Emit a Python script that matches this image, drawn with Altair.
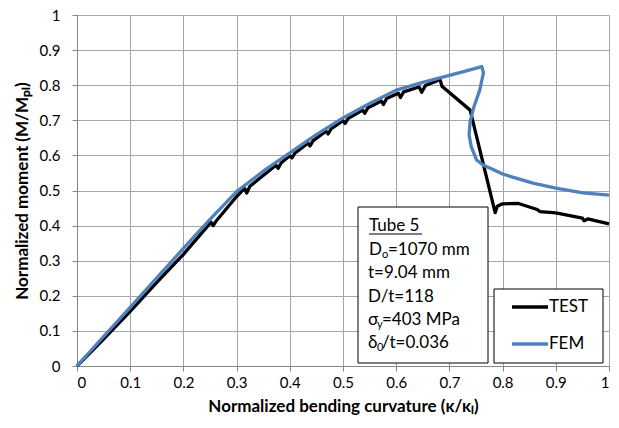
import altair as alt
import pandas as pd

# ---- data ----
fem_x = [0, 0.05, 0.1, 0.15, 0.2, 0.25, 0.3, 0.35, 0.4, 0.45, 0.5, 0.55, 0.6, 0.65,
         0.7, 0.73, 0.761, 0.764, 0.757, 0.746, 0.739, 0.737, 0.741, 0.751, 0.764,
         0.776, 0.8, 0.83, 0.857, 0.9, 0.951, 1.0]
fem_y = [0, 0.084, 0.167, 0.251, 0.335, 0.418, 0.497, 0.555, 0.607, 0.659, 0.707,
         0.748, 0.786, 0.808, 0.828, 0.84, 0.853, 0.835, 0.786, 0.738, 0.696, 0.658,
         0.625, 0.587, 0.572, 0.564, 0.547, 0.533, 0.521, 0.507, 0.493, 0.487]

test_x = [0, 0.05, 0.1, 0.15, 0.2, 0.252, 0.256, 0.262, 0.3, 0.315, 0.319, 0.325,
          0.35, 0.374, 0.378, 0.384, 0.4, 0.404, 0.41, 0.434, 0.438, 0.444, 0.468,
          0.472, 0.478, 0.5, 0.504, 0.51, 0.537, 0.541, 0.547, 0.572, 0.576, 0.582,
          0.604, 0.608, 0.614, 0.643, 0.648, 0.655, 0.675, 0.682, 0.686, 0.739,
          0.786, 0.79, 0.8, 0.83, 0.865, 0.87, 0.9, 0.95, 0.953, 0.96, 1.0]
test_y = [0, 0.077, 0.156, 0.238, 0.318, 0.41, 0.4, 0.414, 0.483, 0.506, 0.493,
          0.512, 0.543, 0.572, 0.563, 0.579, 0.599, 0.593, 0.607, 0.635, 0.627, 0.642,
          0.669, 0.661, 0.676, 0.699, 0.691, 0.706, 0.729, 0.72, 0.736, 0.755, 0.745,
          0.762, 0.777, 0.765, 0.781, 0.795, 0.78, 0.799, 0.811, 0.818, 0.797, 0.729,
          0.437, 0.455, 0.462, 0.463, 0.446, 0.44, 0.436, 0.421, 0.414, 0.419, 0.405]

series_names = ["TEST", "FEM"]
series_colors = ["#000000", "#4F81BD"]
tick_values = [0, 0.1, 0.2, 0.3, 0.4, 0.5, 0.6, 0.7, 0.8, 0.9, 1.0]

FONT = "Lato"
W, H = 532, 351

fem = pd.DataFrame({"x": fem_x, "y": fem_y, "i": range(len(fem_x))})
test = pd.DataFrame({"x": test_x, "y": test_y, "i": range(len(test_x))})

xs = alt.Scale(domain=[0, 1], nice=False)
ys = alt.Scale(domain=[0, 1], nice=False)

x_axis = alt.Axis(values=tick_values, format=".1~f", grid=True,
                  title="Normalized bending curvature (κ/κₗ)")
y_axis = alt.Axis(values=tick_values, format=".1~f", grid=True,
                  title="Normalized moment (M/Mₚₗ)")


def line_layer(df, color):
    return alt.Chart(df).mark_line(strokeWidth=3.3, strokeJoin="round", color=color).encode(
        x=alt.X("x:Q", scale=xs, axis=x_axis),
        y=alt.Y("y:Q", scale=ys, axis=y_axis),
        order="i:Q",
    )


test_line = line_layer(test, series_colors[0])
fem_line = line_layer(fem, series_colors[1])

one = pd.DataFrame({"a": [0]})

# info box
box = alt.Chart(one).mark_rect(fill="white", stroke="black", strokeWidth=1).encode(
    x=alt.value(281), x2=alt.value(411), y=alt.value(192), y2=alt.value(348))

txt = dict(font=FONT, fontSize=17, align="left", baseline="middle", color="black")
sub = dict(font=FONT, fontSize=11, align="left", baseline="middle", color="black")

info_main = [
    ("Tube 5", 292, 211),
    ("D", 292, 235), ("=1070 mm", 311, 235),
    ("t=9.04 mm", 291, 258),
    ("D/t=118", 291, 282),
    ("σ", 291, 305), ("=403 MPa", 305, 305),
    ("δ", 291, 328), ("/t=0.036", 305, 328),
]
info_sub = [("o", 305, 240), ("y", 300, 310), ("0", 300, 333)]

layers = [test_line, fem_line, box]
for t, px, py in info_main:
    layers.append(alt.Chart(one).mark_text(text=t, **txt).encode(
        x=alt.value(px), y=alt.value(py)))
for t, px, py in info_sub:
    layers.append(alt.Chart(one).mark_text(text=t, **sub).encode(
        x=alt.value(px), y=alt.value(py)))
underline = alt.Chart(one).mark_rule(color="black", strokeWidth=1).encode(
    x=alt.value(292), x2=alt.value(345), y=alt.value(219))
layers.append(underline)

# legend
leg_box = alt.Chart(one).mark_rect(fill="white", stroke="black", strokeWidth=1).encode(
    x=alt.value(417), x2=alt.value(526), y=alt.value(274), y2=alt.value(348))
layers.append(leg_box)
for name, col, py in zip(series_names, series_colors, [292, 329]):
    layers.append(alt.Chart(one).mark_rule(color=col, strokeWidth=3.3).encode(
        x=alt.value(435), x2=alt.value(471), y=alt.value(py)))
    layers.append(alt.Chart(one).mark_text(text=name, **txt).encode(
        x=alt.value(472), y=alt.value(py)))

chart = alt.layer(*layers).properties(
    width=W, height=H,
    padding={"left": 77, "top": 15, "right": 10, "bottom": 62},
    autosize=alt.AutoSizeParams(type="none"),
).configure_view(stroke=None).configure_axis(
    gridColor="#A6A6A6", gridWidth=1,
    domainColor="#868686", tickColor="#868686", tickSize=5,
    labelFont=FONT, labelFontSize=15, labelColor="black",
    titleFont=FONT, titleFontSize=17, titleFontWeight="bold", titleColor="black",
).configure_axisX(labelPadding=4, titlePadding=8).configure_axisY(
    labelPadding=12, titlePadding=8)

chart.save("out.html", embed_options={"renderer": "svg", "actions": False})
